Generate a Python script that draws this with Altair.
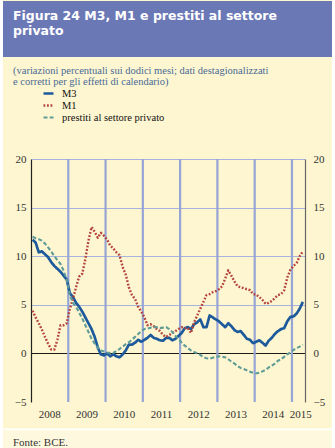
import altair as alt
import pandas as pd

# ---------------- data (monthly, Jan 2008 - Apr 2015) ----------------
series_names = ["M3", "M1", "prestiti al settore privato"]

m3 = [11.7, 11.4, 10.4, 10.5, 10.2, 9.9, 9.4, 9.0, 8.7, 8.4, 8.0, 7.6,
      6.2, 5.8, 5.2, 4.8, 4.3, 3.7, 3.1, 2.5, 1.7, 0.6, -0.1, -0.2,
      0.0, -0.3, -0.1, -0.3, -0.4, -0.1, 0.3, 0.9, 0.9, 1.1, 1.4, 1.2,
      1.4, 1.6, 1.9, 1.6, 1.5, 1.35, 1.3, 1.6, 1.6, 1.35, 1.5, 1.8,
      2.1, 2.6, 2.7, 2.5, 3.0, 3.2, 3.5, 2.7, 2.7, 3.9, 3.7, 3.5,
      3.3, 3.0, 2.7, 3.1, 2.8, 2.4, 2.2, 2.3, 1.9, 1.5, 1.4, 1.05,
      1.2, 1.35, 1.1, 0.8, 1.3, 1.6, 2.0, 2.3, 2.5, 2.6, 3.3, 3.75,
      3.8, 4.1, 4.6, 5.3]

m1 = [4.4, 3.7, 3.1, 2.45, 1.7, 1.0, 0.4, 0.4, 1.4, 2.9, 2.9, 3.1,
      4.6, 5.6, 6.8, 7.9, 8.2, 9.7, 11.6, 13.0, 12.5, 11.9, 12.4, 12.1,
      11.7, 11.1, 10.8, 10.4, 10.1, 8.9, 8.1, 6.8, 6.0, 5.6, 4.8, 4.3,
      3.7, 2.9, 3.0, 2.8, 2.5, 2.3, 1.9, 1.7, 1.9, 2.1, 2.3, 2.5,
      2.7, 2.6, 2.6, 2.1, 3.2, 3.9, 4.6, 5.3, 6.0, 6.1, 6.3, 6.4,
      6.6, 6.9, 7.7, 8.55, 8.0, 7.4, 6.9, 6.8, 6.7, 6.6, 6.5, 6.1,
      6.05, 5.8, 5.5, 5.1, 5.2, 5.4, 5.7, 6.0, 6.1, 6.5, 7.8, 8.6,
      9.0, 9.3, 10.0, 10.5]

prestiti = [12.0, 11.85, 11.75, 11.6, 11.3, 10.9, 10.5, 10.0, 9.6, 9.2, 8.5, 7.6,
            6.0, 5.2, 4.8, 4.2, 3.6, 2.9, 2.2, 1.5, 1.0, 0.6, 0.3, 0.2,
            0.1, 0.05, 0.05, 0.25, 0.45, 0.7, 0.95, 1.15, 1.4, 1.7, 2.0, 2.3,
            2.5, 2.55, 2.65, 2.7, 2.7, 2.6, 2.65, 2.7, 2.5, 2.2, 1.8, 1.5,
            1.1, 0.8, 0.55, 0.3, 0.15, 0.0, -0.15, -0.4, -0.5, -0.55, -0.45, -0.35,
            -0.3, -0.35, -0.4, -0.6, -0.85, -1.05, -1.3, -1.5, -1.6, -1.75, -1.9, -2.0,
            -2.05, -2.0, -1.85, -1.7, -1.45, -1.25, -1.05, -0.75, -0.6, -0.35, -0.1, 0.1,
            0.35, 0.55, 0.7, 0.9]

years = ["2008", "2009", "2010", "2011", "2012", "2013", "2014", "2015"]
y_ticks = [-5, 0, 5, 10, 15, 20]

title_text = "Figura 24 M3, M1 e prestiti al settore\nprivato"
subtitle_text = ("(variazioni percentuali sui dodici mesi; dati destagionalizzati\n"
                 "e corretti per gli effetti di calendario)")
source_text = "Fonte: BCE."

# ---------------- tables ----------------
rows = []
for name, vals in zip(series_names, [m3, m1, prestiti]):
    for i, v in enumerate(vals):
        rows.append({"serie": name, "t": i + 0.5, "v": v})
df = pd.DataFrame(rows)

x_end = 88.2
year_starts = [12 * k for k in range(len(years))]
year_df = pd.DataFrame({
    "anno": years,
    "pos": [(s + min(s + 12, x_end + 1.5)) / 2 for s in year_starts],
})
bound_df = pd.DataFrame({"b": [float(v) for v in year_starts[1:]]})

# ---------------- styles ----------------
W, H = 274, 243
PL, PT = 31, 159
BG = "#fdf6d0"
GRID = "#a9b4de"
VGRID = "#97a4d6"
SERIF = "Liberation Serif"
colors = ["#1d5a9c", "#b3433c", "#5f9c97"]
dashes = [[1, 0], [1.8, 1.7], [4, 2.2]]
widths = [2.7, 2.1, 2.6]

xscale = alt.Scale(domain=[0, x_end], nice=False, zero=False)
yscale = alt.Scale(domain=[-5, 20], nice=False, zero=False)

legend = alt.Legend(
    title=None, orient="none", legendX=11, legendY=-72,
    symbolType="stroke", symbolSize=100, symbolStrokeWidth=2.5,
    labelFont=SERIF, labelFontSize=10.5, labelColor="#111",
    labelOffset=7, rowPadding=-1.5, padding=0,
)

x_axis = alt.Axis(
    values=year_starts, labels=False, ticks=True, tickSize=6, tickColor="#555",
    domain=False, grid=False, title=None,
)

y_left = alt.Axis(
    orient="left", values=y_ticks, ticks=False, domain=True, domainColor="#222",
    domainWidth=1.2, grid=True,
    gridColor={"condition": {"test": "datum.value === 0", "value": "#1a1a1a"},
               "value": GRID},
    gridOpacity={"condition": {"test": "datum.value === -5", "value": 0}, "value": 1},
    gridWidth=1.2,
    labelFont=SERIF, labelFontSize=11, labelColor="#333", labelPadding=5, title=None,
)

y_right = alt.Axis(
    orient="right", values=y_ticks, ticks=False, domain=True, domainColor="#666",
    domainWidth=1.2, grid=False,
    labelFont=SERIF, labelFontSize=11, labelColor="#333", labelPadding=8, title=None,
)

one = pd.DataFrame({"k": [0]})

# decoration: banner, source band, white edges
banner = alt.Chart(one).mark_rect(color="#6b78b6").encode(
    x=alt.value(3 - PL), x2=alt.value(332 - PL),
    y=alt.value(1 - PT), y2=alt.value(57 - PT),
)
src_band = alt.Chart(one).mark_rect(color="#fef9de").encode(
    x=alt.value(3 - PL), x2=alt.value(332 - PL),
    y=alt.value(430 - PT), y2=alt.value(448 - PT),
)
edge_l = alt.Chart(one).mark_rect(color="white").encode(
    x=alt.value(-PL), x2=alt.value(3 - PL), y=alt.value(-PT), y2=alt.value(448 - PT))
edge_r = alt.Chart(one).mark_rect(color="white").encode(
    x=alt.value(332 - PL), x2=alt.value(335 - PL), y=alt.value(-PT), y2=alt.value(448 - PT))
sep = alt.Chart(one).mark_rect(color="white").encode(
    x=alt.value(3 - PL), x2=alt.value(332 - PL), y=alt.value(428.5 - PT), y2=alt.value(430 - PT))

# vertical gridlines at the year boundaries
vgrid = alt.Chart(bound_df).mark_rule(stroke=VGRID, strokeWidth=2.2).encode(
    x=alt.X("b:Q", scale=xscale, axis=None),
)

lines = alt.Chart(df).mark_line(strokeJoin="round").encode(
    x=alt.X("t:Q", scale=xscale, axis=x_axis),
    y=alt.Y("v:Q", scale=yscale, axis=y_left),
    color=alt.Color("serie:N", scale=alt.Scale(domain=series_names, range=colors),
                    legend=legend, sort=series_names),
    strokeDash=alt.StrokeDash("serie:N", scale=alt.Scale(domain=series_names, range=dashes),
                              legend=legend, sort=series_names),
    strokeWidth=alt.StrokeWidth("serie:N", scale=alt.Scale(domain=series_names, range=widths),
                                legend=legend, sort=series_names),
    order="t:Q",
)

right_axis = alt.Chart(df).mark_line(opacity=0).encode(
    x=alt.X("t:Q", scale=xscale, axis=None),
    y=alt.Y("v:Q", scale=yscale, axis=y_right),
    detail="serie:N",
)

year_labels = alt.Chart(year_df).mark_text(
    font=SERIF, fontSize=11, color="#333", baseline="middle", align="center"
).encode(
    x=alt.X("pos:Q", scale=xscale, axis=None),
    y=alt.value(H + 13),
    text="anno:N",
)

title = alt.Chart(pd.DataFrame({"txt": [title_text]})).mark_text(
    font="DejaVu Sans", fontWeight="bold", fontSize=12.5, color="white",
    align="left", baseline="alphabetic", lineBreak="\n", lineHeight=14.5,
).encode(x=alt.value(13 - PL), y=alt.value(20 - PT), text="txt:N")

subtitle = alt.Chart(pd.DataFrame({"txt": [subtitle_text]})).mark_text(
    font=SERIF, fontSize=10.5, color="#4a6a96",
    align="left", baseline="alphabetic", lineBreak="\n", lineHeight=10.5,
).encode(x=alt.value(13 - PL), y=alt.value(74 - PT), text="txt:N")

source = alt.Chart(pd.DataFrame({"txt": [source_text]})).mark_text(
    font=SERIF, fontSize=11, color="#333", align="left", baseline="alphabetic",
).encode(x=alt.value(13 - PL), y=alt.value(446 - PT), text="txt:N")

chart = alt.layer(
    banner, src_band, sep, edge_l, edge_r, vgrid, lines, right_axis,
    year_labels, title, subtitle, source,
).resolve_axis(y="independent").properties(
    width=W, height=H, background=BG,
    padding={"left": PL, "top": PT, "right": 335 - PL - W, "bottom": 448 - PT - H},
    autosize=alt.AutoSizeParams(type="none"),
).configure_view(stroke=None)

chart.save("out.html", embed_options={"renderer": "svg", "actions": False})
